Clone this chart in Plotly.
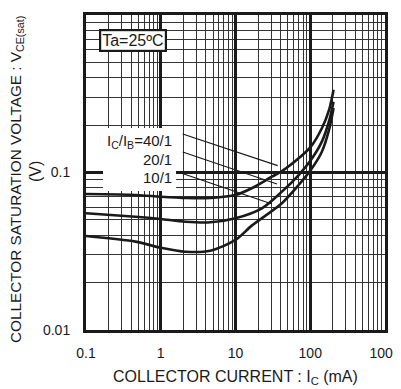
import plotly.graph_objects as go

# ---- data ----
ic_40 = [0.1, 0.47, 1, 2.2, 4.7, 10, 16.7, 30.6, 41.8, 70, 102, 143, 180, 205]
v_40 = [0.073, 0.072, 0.0702, 0.0689, 0.069, 0.0719, 0.0797, 0.094, 0.102, 0.123, 0.146, 0.191, 0.253, 0.335]

ic_20 = [0.1, 0.46, 1, 2.15, 4.6, 10, 22.5, 41.8, 70, 102, 143, 180, 205]
v_20 = [0.0551, 0.0524, 0.0507, 0.0487, 0.0483, 0.0512, 0.0592, 0.0756, 0.0964, 0.120, 0.157, 0.215, 0.281]

ic_10 = [0.1, 0.46, 1, 2.15, 4.6, 10, 16.5, 41.8, 70, 102, 143, 180, 205]
v_10 = [0.0395, 0.0364, 0.0333, 0.0314, 0.0319, 0.0373, 0.046, 0.0638, 0.0833, 0.104, 0.1355, 0.19, 0.257]

x_ticks = [0.1, 1, 10, 100, 1000]
x_ticktext = ["0.1", "1", "10", "100", "1000"]
y_ticks = [0.01, 0.1, 1]
y_ticktext = ["0.01", "0.1", "1"]

ratio_labels = ["I<sub>C</sub>/I<sub>B</sub>=40/1", "20/1", "10/1"]

FONT = "Liberation Sans, Arial, sans-serif"
INK = "#1a1a1a"

fig = go.Figure()
for xs, ys in [(ic_40, v_40), (ic_20, v_20), (ic_10, v_10)]:
    fig.add_trace(go.Scatter(x=xs, y=ys, mode="lines",
                             line=dict(color=INK, width=2.6, shape="spline", smoothing=0.8),
                             showlegend=False, hoverinfo="skip"))

axis_common = dict(
    type="log",
    showline=True, mirror=True, linecolor=INK, linewidth=3,
    showgrid=True, gridcolor=INK, gridwidth=2.6,
    ticks="", zeroline=False, automargin=False,
    tickfont=dict(family=FONT, size=14, color=INK),
    minor=dict(dtick="D1", showgrid=True, gridcolor="#333333", gridwidth=1, ticks=""),
)

fig.update_xaxes(**axis_common, range=[-1, 3], tickvals=x_ticks, ticktext=x_ticktext,
                 ticklabelstandoff=8)
fig.update_yaxes(**axis_common, range=[-2, 0], tickvals=y_ticks, ticktext=y_ticktext,
                 ticklabelstandoff=10)

# page-pixel helpers (plot area spans page x 86..385, y 15..330)
W, H = 299.0, 315.0
L, T = 86.0, 15.0


def px(x):
    return (x - L) / W


def py(y):
    return (T + H - y) / H


shapes = []
# white box behind ratio labels
shapes.append(dict(type="rect", xref="paper", yref="paper",
                   x0=px(103), x1=px(176), y0=py(191), y1=py(128),
                   fillcolor="white", line=dict(width=0), layer="above"))
# pointer lines
for (x0, y0, x1, y1) in [(182.7, 134, 277.7, 165.7), (182.7, 152, 277, 184), (181, 173, 272, 204)]:
    shapes.append(dict(type="line", xref="paper", yref="paper",
                       x0=px(x0), y0=py(y0), x1=px(x1), y1=py(y1),
                       line=dict(color=INK, width=1.3), layer="above"))
fig.update_layout(shapes=shapes)

annotations = [dict(xref="paper", yref="paper", x=px(132.5), y=py(40.5),
                    text="Ta=25ºC", showarrow=False, xanchor="center", yanchor="middle",
                    font=dict(family=FONT, size=16, color=INK),
                    bgcolor="white", bordercolor=INK, borderwidth=2.2, borderpad=1)]
for txt, yc in zip(ratio_labels, [141, 159.5, 178]):
    annotations.append(dict(xref="paper", yref="paper", x=px(174), y=py(yc),
                            text=txt, showarrow=False, xanchor="right", yanchor="middle",
                            font=dict(family=FONT, size=15, color=INK)))
# axis titles
annotations.append(dict(xref="paper", yref="paper", x=px(235.5), y=py(377),
                        text="COLLECTOR CURRENT : I<sub>C</sub> (mA)", showarrow=False,
                        xanchor="center", yanchor="middle",
                        font=dict(family=FONT, size=16, color=INK)))
annotations.append(dict(xref="paper", yref="paper", x=px(16), y=py(180),
                        text="COLLECTOR SATURATION VOLTAGE : V<sub>CE(sat)</sub>", showarrow=False,
                        textangle=-90, xanchor="center", yanchor="middle",
                        font=dict(family=FONT, size=15.3, color=INK)))
annotations.append(dict(xref="paper", yref="paper", x=px(35), y=py(172),
                        text="(V)", showarrow=False,
                        textangle=-90, xanchor="center", yanchor="middle",
                        font=dict(family=FONT, size=16, color=INK)))
fig.update_layout(annotations=annotations)

# page body has an 8px margin, so the figure is 8px smaller on each axis
fig.update_layout(width=393, height=381, template="none",
                  margin=dict(l=78, r=16, t=7, b=59, autoexpand=False),
                  paper_bgcolor="white", plot_bgcolor="white")

fig.write_html("out.html")
